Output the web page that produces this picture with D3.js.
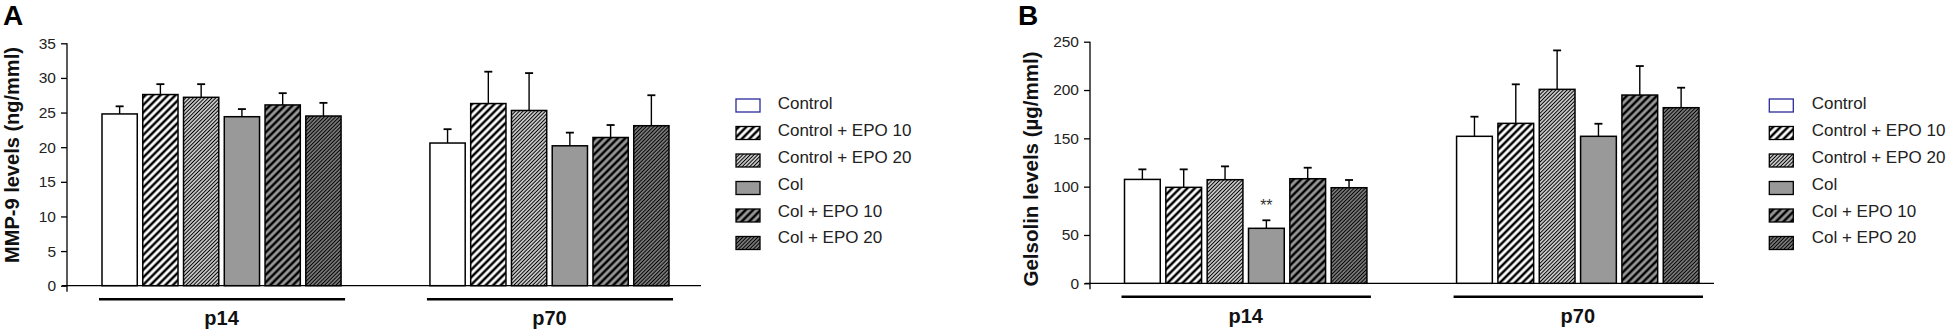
<!DOCTYPE html>
<html>
<head>
<meta charset="utf-8">
<script src="https://cdn.jsdelivr.net/npm/d3@7"></script>
<style>
  html, body { margin: 0; padding: 0; background: #fff; }
  svg { display: block; }
  text { font-family: "Liberation Sans", Arial, sans-serif; }
</style>
</head>
<body>
<svg id="chart" width="1950" height="335"></svg>
<script>
// ---------- data ----------
const groups = ["p14", "p70"];
const series = ["Control", "Control + EPO 10", "Control + EPO 20", "Col", "Col + EPO 10", "Col + EPO 20"];

const mmp9P14    = [24.8, 27.6, 27.2, 24.4, 26.1, 24.5];
const mmp9P14Err = [1.1, 1.5, 1.9, 1.1, 1.7, 1.9];
const mmp9P70    = [20.6, 26.3, 25.3, 20.2, 21.4, 23.1];
const mmp9P70Err = [2.0, 4.6, 5.4, 1.9, 1.8, 4.4];

const gelP14    = [107.5, 99.3, 107.2, 56.9, 108.2, 98.9];
const gelP14Err = [10.4, 18.6, 13.8, 8.3, 11.4, 8.0];
const gelP70    = [152.1, 165.5, 200.7, 152.1, 194.8, 181.7];
const gelP70Err = [20.3, 40.4, 40.3, 13.0, 30.0, 20.7];

const mmp9Ticks = [0, 5, 10, 15, 20, 25, 30, 35];
const gelTicks  = [0, 50, 100, 150, 200, 250];

const gelAnnotations = [{ group: "p14", series: "Col", text: "**" }];

// ---------- styles ----------
const seriesStyle = {
  "Control":          { base: "#ffffff", stripe: null },
  "Control + EPO 10": { base: "#ffffff", stripe: "thick" },
  "Control + EPO 20": { base: "#ffffff", stripe: "thin" },
  "Col":              { base: "#999999", stripe: null },
  "Col + EPO 10":     { base: "#999999", stripe: "thick" },
  "Col + EPO 20":     { base: "#999999", stripe: "thin" }
};

const svg = d3.select("#chart");
const defs = svg.append("defs");

function makePattern(id, base, kind) {
  const w = kind === "thick" ? 5.3 : 2.65;
  const sw = kind === "thick" ? 2.5 : 1.3;
  const p = defs.append("pattern")
    .attr("id", id)
    .attr("patternUnits", "userSpaceOnUse")
    .attr("width", w).attr("height", w)
    .attr("patternTransform", "rotate(45)");
  p.append("rect").attr("width", w).attr("height", w).attr("fill", base);
  p.append("line").attr("x1", w / 2).attr("x2", w / 2).attr("y1", -1).attr("y2", w + 1)
    .attr("stroke", "#000").attr("stroke-width", sw);
}
series.forEach((s, i) => {
  const st = seriesStyle[s];
  if (st.stripe) makePattern("pat" + i, st.base, st.stripe);
});
function fillFor(i) {
  const st = seriesStyle[series[i]];
  return st.stripe ? `url(#pat${i})` : st.base;
}

// ---------- panels ----------
const panels = [
  {
    letter: "A", letterX: 3,
    yLabel: "MMP-9 levels (ng/mml)", yLabelX: 18.5, yLabelY: 155, yLabelLen: 216,
    values: { p14: mmp9P14, p70: mmp9P70 },
    errors: { p14: mmp9P14Err, p70: mmp9P70Err },
    domain: [0, 35], ticks: mmp9Ticks,
    axisX: 67, axisRight: 701, yTop: 43.3, yBottom: 285.7,
    barsLeft: 102, barsRight: 669, groupPad: 0.271,
    legendBoxX: 736, legendTextX: 777.7,
    annotations: []
  },
  {
    letter: "B", letterX: 1018,
    yLabel: "Gelsolin levels (µg/mml)", yLabelX: 1037.5, yLabelY: 169, yLabelLen: 235,
    values: { p14: gelP14, p70: gelP70 },
    errors: { p14: gelP14Err, p70: gelP70Err },
    domain: [0, 250], ticks: gelTicks,
    axisX: 1090, axisRight: 1714, yTop: 41.7, yBottom: 283.3,
    barsLeft: 1124.5, barsRight: 1699, groupPad: 0.27,
    legendBoxX: 1769.3, legendTextX: 1811.7,
    annotations: gelAnnotations
  }
];

panels.forEach(P => {
  const g = svg.append("g");
  const y = d3.scaleLinear().domain(P.domain).range([P.yBottom, P.yTop]);
  const x0 = d3.scaleBand().domain(groups).range([P.barsLeft, P.barsRight])
    .paddingInner(P.groupPad).paddingOuter(0);
  const x1 = d3.scaleBand().domain(series).range([0, x0.bandwidth()])
    .paddingInner(0.135).paddingOuter(0);

  // panel letter
  g.append("text").attr("x", P.letterX).attr("y", 25)
    .attr("font-size", 28).attr("font-weight", "bold").attr("fill", "#000")
    .text(P.letter);

  // y label (font size fitted to the reference length)
  const yl = g.append("text")
    .attr("transform", `translate(${P.yLabelX},${P.yLabelY}) rotate(-90)`)
    .attr("text-anchor", "middle")
    .attr("font-size", 20).attr("font-weight", "bold").attr("fill", "#111")
    .text(P.yLabel);
  const len = yl.node().getComputedTextLength();
  if (len > 0) yl.attr("font-size", 20 * P.yLabelLen / len);

  // y axis
  const yAxis = d3.axisLeft(y).tickValues(P.ticks).tickSize(6).tickPadding(5);
  const ag = g.append("g").attr("transform", `translate(${P.axisX},0)`).call(yAxis);
  ag.select(".domain").remove();
  ag.selectAll(".tick line").attr("stroke", "#000").attr("stroke-width", 1.3);
  ag.selectAll(".tick text").attr("font-size", 15.5).attr("fill", "#222")
    .attr("font-family", "'Liberation Sans', Arial, sans-serif");
  // vertical axis line (extends a little below zero)
  g.append("line").attr("x1", P.axisX).attr("x2", P.axisX)
    .attr("y1", P.yTop).attr("y2", P.yBottom + 6)
    .attr("stroke", "#000").attr("stroke-width", 1.3);
  // baseline
  g.append("line").attr("x1", P.axisX - 5).attr("x2", P.axisRight)
    .attr("y1", y(0)).attr("y2", y(0))
    .attr("stroke", "#000").attr("stroke-width", 1.3);

  // bars
  groups.forEach(gr => {
    const gg = g.append("g").attr("transform", `translate(${x0(gr)},0)`);
    const vals = P.values[gr], errs = P.errors[gr];
    const rows = series.map((s, i) => ({ s, i, v: vals[i], e: errs[i] }));

    // error bars (behind bars)
    gg.selectAll("line.err").data(rows).join("line")
      .attr("class", "err")
      .attr("x1", d => x1(d.s) + x1.bandwidth() / 2)
      .attr("x2", d => x1(d.s) + x1.bandwidth() / 2)
      .attr("y1", d => y(d.v)).attr("y2", d => y(d.v + d.e))
      .attr("stroke", "#000").attr("stroke-width", 1.4);
    gg.selectAll("line.cap").data(rows).join("line")
      .attr("class", "cap")
      .attr("x1", d => x1(d.s) + x1.bandwidth() / 2 - 4)
      .attr("x2", d => x1(d.s) + x1.bandwidth() / 2 + 4)
      .attr("y1", d => y(d.v + d.e)).attr("y2", d => y(d.v + d.e))
      .attr("stroke", "#000").attr("stroke-width", 1.8);

    gg.selectAll("rect.bar").data(rows).join("rect")
      .attr("class", "bar")
      .attr("x", d => x1(d.s)).attr("width", x1.bandwidth())
      .attr("y", d => y(d.v)).attr("height", d => y(0) - y(d.v))
      .attr("fill", d => fillFor(d.i))
      .attr("stroke", "#000").attr("stroke-width", 1.5);

    // annotations
    P.annotations.filter(a => a.group === gr).forEach(a => {
      const i = series.indexOf(a.series);
      g.append("text")
        .attr("x", x0(gr) + x1(a.series) + x1.bandwidth() / 2)
        .attr("y", y(vals[i] + errs[i]) - 9)
        .attr("text-anchor", "middle").attr("font-size", 16).attr("fill", "#333")
        .text(a.text);
    });

    // group underline and label
    g.append("line")
      .attr("x1", x0(gr) - 3).attr("x2", x0(gr) + x0.bandwidth() + 4)
      .attr("y1", y(0) + 13.5).attr("y2", y(0) + 13.5)
      .attr("stroke", "#000").attr("stroke-width", 2.4);
    g.append("text")
      .attr("x", x0(gr) + x0.bandwidth() / 2).attr("y", y(0) + 39.5)
      .attr("text-anchor", "middle")
      .attr("font-size", 20).attr("font-weight", "bold").attr("fill", "#111")
      .text(gr);
  });

  // legend
  const lg = g.append("g");
  series.forEach((s, i) => {
    lg.append("rect")
      .attr("x", P.legendBoxX).attr("y", 99 + i * 27.5)
      .attr("width", 24).attr("height", 13)
      .attr("fill", fillFor(i))
      .attr("stroke", i === 0 ? "#2a2a9a" : "#000").attr("stroke-width", 1.3);
    lg.append("text")
      .attr("x", P.legendTextX).attr("y", 109.3 + i * 26.8)
      .attr("font-size", 17).attr("fill", "#222")
      .text(s);
  });
});
</script>
</body>
</html>
